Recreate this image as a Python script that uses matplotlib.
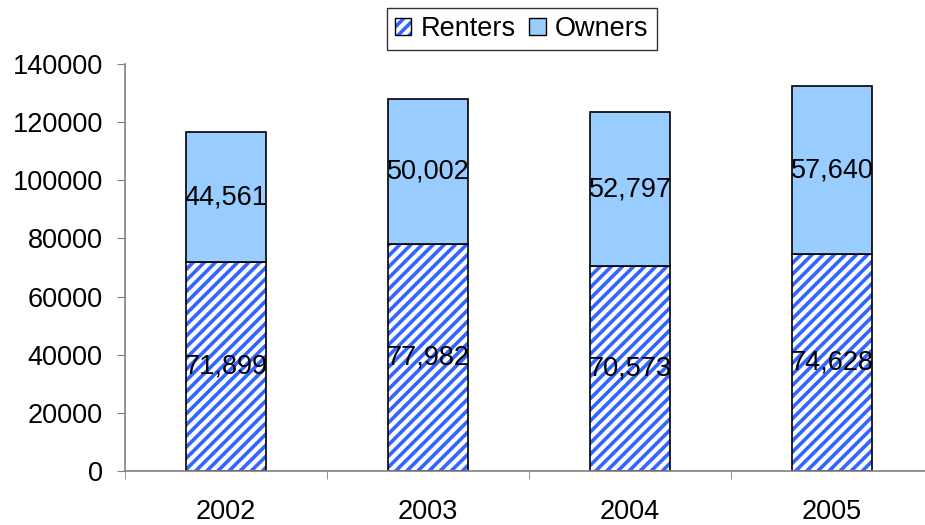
import matplotlib
matplotlib.use("Agg")
import matplotlib.pyplot as plt
from matplotlib.patches import Patch
import numpy as np

years = ["2002", "2003", "2004", "2005"]
renters = [71899, 77982, 70573, 74628]
owners = [44561, 50002, 52797, 57640]
yticks = [0, 20000, 40000, 60000, 80000, 100000, 120000, 140000]

plt.rcParams['font.family'] = ['Liberation Sans', 'DejaVu Sans']
plt.rcParams['hatch.linewidth'] = 2.6

FS = 19.5
fig = plt.figure(figsize=(9.25, 5.25), dpi=100)
ax = fig.add_axes([125/925, 1-471/525, (933-125)/925, (471-64)/525])

x = np.arange(len(years))
HATCH_BLUE = '#3366FF'
# hatch layer (edgecolor drives hatch colour), then black outline
ax.bar(x, renters, width=0.4, color='white', edgecolor=HATCH_BLUE, hatch='///', linewidth=0)
ax.bar(x, renters, width=0.4, color='none', edgecolor='black', linewidth=1.2)
ax.bar(x, owners, width=0.4, bottom=renters, color='#99CCFF', edgecolor='black', linewidth=1.2)

for i in range(len(years)):
    ax.text(x[i], renters[i]/2, f"{renters[i]:,}", ha='center', va='center', fontsize=FS)
    ax.text(x[i], renters[i] + owners[i]/2, f"{owners[i]:,}", ha='center', va='center', fontsize=FS)

ax.set_xlim(-0.5, 3.5)
ax.set_ylim(0, 140000)
ax.set_yticks(yticks)
ax.set_yticklabels([str(v) for v in yticks], fontsize=FS)
ax.set_xticks(x)
ax.set_xticklabels(years, fontsize=FS)
ax.set_xticks([-0.5, 0.5, 1.5, 2.5, 3.5], minor=True)
ax.tick_params(axis='x', which='major', length=0, pad=20)
ax.tick_params(axis='x', which='minor', length=6, color='#808080', direction='out')
ax.tick_params(axis='y', length=6, color='#808080', direction='out', pad=10)
for s in ['top', 'right']:
    ax.spines[s].set_visible(False)
for s in ['left', 'bottom']:
    ax.spines[s].set_color('#808080')
    ax.spines[s].set_linewidth(1.2)

h1 = Patch(facecolor='white', edgecolor=HATCH_BLUE, hatch='///', linewidth=0)
h1b = Patch(facecolor='none', edgecolor='black', linewidth=1.0)
h2 = Patch(facecolor='#99CCFF', edgecolor='black', linewidth=1.0)
leg = fig.legend(handles=[(h1, h1b), h2], labels=['Renters', 'Owners'], loc='upper center',
                 bbox_to_anchor=(0.564, 0.985), ncol=2,
                 frameon=True, fancybox=False, edgecolor='black', fontsize=FS,
                 handlelength=0.6, handleheight=0.6, handletextpad=0.35, columnspacing=0.5,
                 borderpad=0.3, borderaxespad=0.0)
leg.get_frame().set_linewidth(1.0)

fig.savefig("out.png", dpi=100)
